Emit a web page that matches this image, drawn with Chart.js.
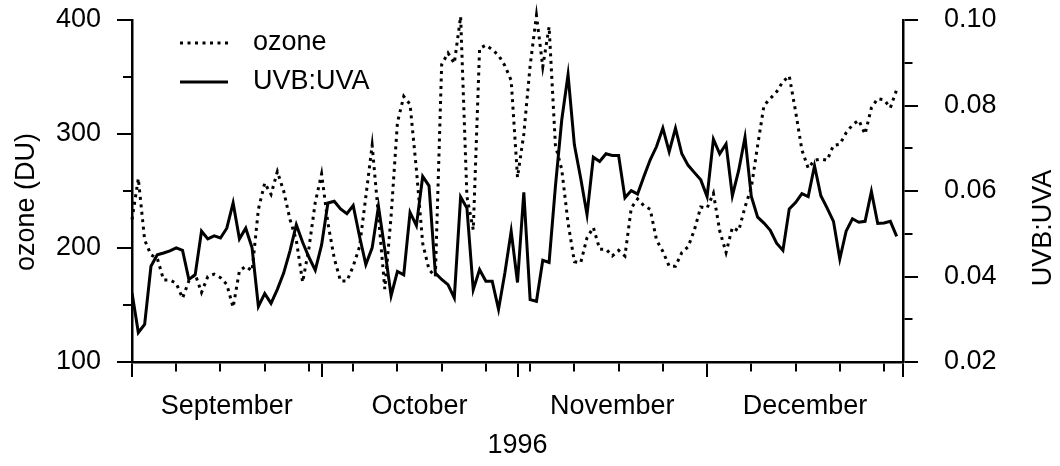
<!DOCTYPE html>
<html>
<head>
<meta charset="utf-8">
<script src="https://cdn.jsdelivr.net/npm/chart.js@4.4.1/dist/chart.umd.min.js"></script>
<style>
  html, body { margin: 0; padding: 0; background: #fff; }
</style>
</head>
<body>
<canvas id="chart1" width="1060" height="466"></canvas>
<script>
// days since 1 Sep 1996
var days = [0,1,2,3,4,5,6,7,8,9,10,11,12,13,14,15,16,17,18,19,20,21,22,23,24,25,26,27,28,29,
  30,31,32,33,34,35,36,37,38,39,40,41,42,43,44,45,46,47,48,49,50,51,52,53,54,55,56,57,58,59,
  60,61,62,63,64,65,66,67,68,69,70,71,72,73,74,75,76,77,78,79,80,81,82,83,84,85,86,87,88,89,
  90,91,92,93,94,95,96,97,98,99,100,101,102,103,104,105,106,107,108,109,110,111,112,113,114,115,116,117,118,119,
  120,121];

var ozone = [225,261,207,194,191,172,172,169,156,171,177,161,175,177,174,168,148,180,184,180,
  234,257,247,267,250,225,207,170,200,240,265,222,191,171,171,184,201,245,290,228,
  164,228,310,333,326,269,204,181,175,361,371,362,403,245,216,375,378,374,369,360,
  347,262,300,360,404,359,394,290,269,222,188,187,209,218,199,199,193,198,193,235,
  243,237,234,207,197,184,184,196,201,216,236,235,248,215,196,218,215,236,253,290,
  325,331,337,346,351,320,286,270,277,278,277,290,291,301,308,312,300,323,331,330,
  323,339];

var uvbUva = [0.0362,0.0269,0.0288,0.0424,0.0451,0.0455,0.0460,0.0467,0.0461,0.0393,
  0.0404,0.0506,0.0488,0.0495,0.0490,0.0513,0.0572,0.0488,0.0513,0.0467,
  0.0330,0.0360,0.0337,0.0370,0.0408,0.0460,0.0521,0.0480,0.0445,0.0415,
  0.0474,0.0572,0.0576,0.0558,0.0547,0.0566,0.0494,0.0428,0.0467,0.0564,
  0.0463,0.0355,0.0412,0.0404,0.0550,0.0519,0.0634,0.0612,0.0408,0.0393,
  0.0381,0.0350,0.0586,0.0560,0.0369,0.0416,0.0389,0.0389,0.0323,0.0408,
  0.0506,0.0386,0.0597,0.0346,0.0342,0.0438,0.0433,0.0611,0.0766,0.0872,
  0.0708,0.0630,0.0545,0.0679,0.0669,0.0687,0.0683,0.0683,0.0584,0.0601,
  0.0593,0.0634,0.0673,0.0704,0.0747,0.0692,0.0747,0.0687,0.0660,0.0643,
  0.0626,0.0587,0.0721,0.0687,0.0710,0.0589,0.0648,0.0726,0.0587,0.0539,
  0.0525,0.0508,0.0478,0.0461,0.0558,0.0573,0.0594,0.0587,0.0659,0.0589,
  0.0560,0.0529,0.0441,0.0506,0.0535,0.0527,0.0529,0.0599,0.0524,0.0525,
  0.0529,0.0494];

// x axis ticks (days since 1 Sep)
var weekTicks = [0,7,14,21,28,35,42,49,56,63,70,77,84,91,98,105,112,119];
var monthStarts = [0,30,61,91,122];
var monthMids = [15,45.5,76,106.5];
var monthNames = ['September','October','November','December'];
var ozoneLabels = [100,200,300,400];
var ratioLabels = [0.02,0.04,0.06,0.08,0.10];

var FONT = '"Liberation Sans", Arial, Helvetica, sans-serif';
var FS = 27;

function tickKind(v) {
  if (monthStarts.indexOf(v) >= 0) return 'major';
  if (monthMids.indexOf(v) >= 0) return 'label';
  return 'minor';
}

// y scales: no extra room for the end labels, the frame starts at the padding
function trimPad(scale, w) {
  scale.width = w;
  scale.paddingTop = 0;
  scale.paddingBottom = 0;
}

const extras = {
  id: 'extras',
  afterDraw(chart) {
    const c = chart.ctx, a = chart.chartArea;
    c.save();
    c.fillStyle = '#000';
    c.strokeStyle = '#000';
    c.font = FS + 'px ' + FONT;
    // legend
    chart.data.datasets.forEach(function (ds, i) {
      var y = a.top + 23 + i * 39;
      c.beginPath();
      c.setLineDash(ds.borderDash || []);
      c.lineWidth = ds.borderWidth;
      c.moveTo(a.left + 48, y);
      c.lineTo(a.left + 96, y);
      c.stroke();
      c.setLineDash([]);
      c.textAlign = 'left';
      c.textBaseline = 'middle';
      c.fillText(ds.label, a.left + 121, y);
    });
    // axis titles
    c.textAlign = 'center';
    c.textBaseline = 'middle';
    c.fillText('1996', (a.left + a.right) / 2, 446);
    c.save();
    c.translate(27, 202);
    c.rotate(-Math.PI / 2);
    c.fillText('ozone (DU)', 0, 0);
    c.restore();
    c.save();
    c.translate(1044, 228);
    c.rotate(-Math.PI / 2);
    c.fillText('UVB:UVA', 0, 0);
    c.restore();
    c.restore();
  }
};

document.addEventListener("DOMContentLoaded", function () {
const ctx = document.getElementById("chart1");
const chart1 = new Chart(ctx, {
  type: 'line',
  data: {
    datasets: [{
        label: 'ozone',
        data: days.map(function (d, i) { return {x: d, y: ozone[i]}; }),
        yAxisID: 'y',
        borderColor: '#000',
        borderWidth: 3,
        borderDash: [3, 4.5],
        pointRadius: 0,
        tension: 0,
        clip: false
      }, {
        label: 'UVB:UVA',
        data: days.map(function (d, i) { return {x: d, y: uvbUva[i]}; }),
        yAxisID: 'y2',
        borderColor: '#000',
        borderWidth: 3,
        pointRadius: 0,
        tension: 0
      }
    ]
  },
  options: {
    responsive: false,
    animation: false,
    devicePixelRatio: 1,
    layout: { padding: { top: 20, left: 0, right: 0, bottom: 0 } },
    plugins: { legend: { display: false }, tooltip: { enabled: false } },
    scales: {
      x: {
        type: 'linear',
        min: 0, max: 122,
        afterBuildTicks: function (scale) {
          var vals = weekTicks.concat(monthStarts, monthMids)
            .filter(function (v, i, arr) { return arr.indexOf(v) === i; })
            .sort(function (p, q) { return p - q; });
          scale.ticks = vals.map(function (v) { return {value: v}; });
        },
        afterFit: function (scale) { scale.height = 104; },
        border: { display: true, color: '#000', width: 2.5 },
        grid: {
          drawOnChartArea: false,
          tickLength: 15,
          lineWidth: 2,
          tickColor: function (c) { return tickKind(c.tick.value) === 'label' ? 'rgba(0,0,0,0)' : '#000'; },
          tickBorderDash: function (c) { return tickKind(c.tick.value) === 'minor' ? [8, 100] : []; }
        },
        ticks: {
          autoSkip: false, maxRotation: 0, padding: 13,
          color: '#000', font: { family: FONT, size: FS },
          callback: function (v) { var k = monthMids.indexOf(v); return k >= 0 ? monthNames[k] : ''; }
        }
      },
      y: {
        position: 'left',
        min: 100, max: 400,
        afterFit: function (scale) { trimPad(scale, 132); },
        border: { display: true, color: '#000', width: 2.5 },
        grid: {
          drawOnChartArea: false,
          tickLength: 15,
          lineWidth: 2,
          tickColor: '#000',
          tickBorderDash: function (c) { return ozoneLabels.indexOf(c.tick.value) >= 0 ? [] : [0, 6, 8, 100]; }
        },
        ticks: {
          stepSize: 25, padding: 16,
          color: '#000', font: { family: FONT, size: FS },
          callback: function (v) { return ozoneLabels.indexOf(v) >= 0 ? String(v) : ''; }
        }
      },
      y2: {
        position: 'right',
        min: 0.02, max: 0.10,
        afterFit: function (scale) { trimPad(scale, 157); },
        border: { display: true, color: '#000', width: 2.5 },
        grid: {
          drawOnChartArea: false,
          tickLength: 15,
          lineWidth: 2,
          tickColor: '#000',
          tickBorderDash: function (c) {
            var v = Math.round(c.tick.value * 100) / 100;
            return ratioLabels.indexOf(v) >= 0 ? [] : [8, 100];
          }
        },
        ticks: {
          stepSize: 0.01, padding: 26,
          color: '#000', font: { family: FONT, size: FS },
          callback: function (v) {
            var r = Math.round(v * 100) / 100;
            return ratioLabels.indexOf(r) >= 0 ? r.toFixed(2) : '';
          }
        }
      }
    }
  },
  plugins: [extras]
});
});
</script>
</body>
</html>
